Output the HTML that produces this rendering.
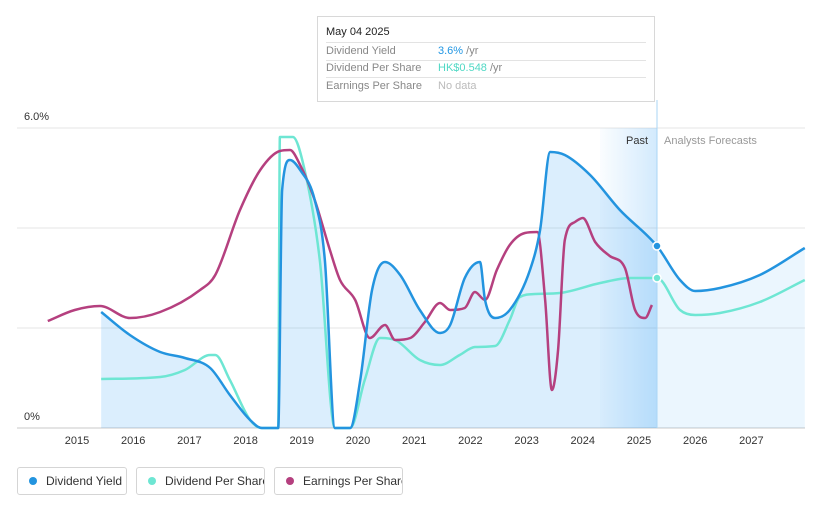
<!DOCTYPE html>
<html><head><meta charset="utf-8"><style>
body{margin:0;background:#fff;font-family:"Liberation Sans",sans-serif;}
#wrap{position:relative;width:821px;height:508px;overflow:hidden;}
.tt{position:absolute;left:317px;top:16px;width:338px;height:86px;background:#fff;border:1px solid #d8d8d8;box-sizing:border-box;font-size:11px;}
.tt .r{position:absolute;left:8px;right:8px;height:17px;border-bottom:1px solid #e3e3e3;color:#888;}
.tt .r span{position:absolute;left:112px}
.leg{position:absolute;top:467px;height:28px;border:1px solid #d5d5d5;border-radius:3px;box-sizing:border-box;font-size:12px;color:#333;line-height:26px;padding-left:28px;white-space:nowrap;overflow:hidden}
.leg i{position:absolute;left:11px;top:9px;width:8px;height:8px;border-radius:50%}
</style></head><body>
<div id="wrap">
<svg id="chart" width="821" height="508" style="position:absolute;left:0;top:0">
<defs>
<linearGradient id="pastg" x1="0" x2="1" y1="0" y2="0"><stop offset="0" stop-color="#2196f3" stop-opacity="0.02"/><stop offset="1" stop-color="#2196f3" stop-opacity="0.2"/></linearGradient>
</defs>
<g id="grid"></g>
<rect x="600" y="128" width="57" height="300" fill="url(#pastg)"/>
<g id="areas"></g>
<line x1="657" y1="100" x2="657" y2="428" stroke="#a9d6f5" stroke-width="1"/>
<g id="lines"></g>
<text x="626" y="144" font-size="11" fill="#333">Past</text>
<text x="664" y="144" font-size="11" fill="#999">Analysts Forecasts</text>
<text x="24" y="120" font-size="11" fill="#333">6.0%</text>
<text x="24" y="420" font-size="11" fill="#333">0%</text>
<g id="xticks"></g>
</svg>
<div class="tt">
<div style="position:absolute;left:8px;top:9px;color:#222;font-size:11px">May 04 2025</div>
<div class="r" style="top:25px;border-top:1px solid #e3e3e3;line-height:17px">Dividend Yield<span style="color:#2196e3">3.6% <b style="font-weight:normal;color:#888">/yr</b></span></div>
<div class="r" style="top:43px;line-height:17px">Dividend Per Share<span style="color:#4fd8c4">HK$0.548 <b style="font-weight:normal;color:#888">/yr</b></span></div>
<div class="r" style="top:61px;line-height:17px;border-bottom:none">Earnings Per Share<span style="color:#bbb">No data</span></div>
</div>
<div class="leg" style="left:17px;width:110px"><i style="background:#2394df"></i>Dividend Yield</div>
<div class="leg" style="left:136px;width:129px"><i style="background:#6ee6d3"></i>Dividend Per Share</div>
<div class="leg" style="left:274px;width:129px"><i style="background:#b5407f"></i>Earnings Per Share</div>
</div>
<script>
const yieldYears=[2015.43,2015.94,2016.48,2016.92,2017.37,2017.72,2018.08,2018.29,2018.58,2018.65,2018.79,2018.97,2019.23,2019.41,2019.59,2019.86,2020.04,2020.25,2020.48,2020.75,2021.10,2021.46,2021.64,2021.90,2022.17,2022.26,2022.44,2022.70,2023.06,2023.24,2023.42,2023.68,2024.13,2024.66,2025.32,2025.73,2026.00,2026.44,2027.15,2027.95];
const yieldValues=[2.32,1.86,1.52,1.40,1.20,0.66,0.16,0,0,4.76,5.36,5.16,4.56,3.36,0,0,0.96,2.76,3.32,3.06,2.36,1.90,2.06,3.0,3.32,2.56,2.2,2.36,3.16,3.96,5.52,5.46,5.06,4.36,3.64,2.96,2.74,2.8,3.06,3.6];
const dpsYears=[2015.43,2016.48,2016.92,2017.37,2017.46,2017.72,2018.08,2018.29,2018.58,2018.61,2018.84,2019.05,2019.32,2019.59,2019.86,2020.12,2020.39,2020.66,2021.10,2021.46,2021.81,2022.08,2022.44,2022.70,2022.88,2023.15,2023.59,2024.31,2024.84,2025.32,2025.73,2026.00,2026.44,2027.15,2027.95];
const dpsValues=[0.98,1.02,1.16,1.46,1.46,0.96,0.16,0,0,5.82,5.82,5.16,3.36,0,0,0.96,1.8,1.76,1.36,1.26,1.46,1.62,1.64,2.16,2.62,2.68,2.7,2.9,3.0,3.0,2.36,2.26,2.3,2.52,2.96];
const epsYears=[2014.48,2014.96,2015.41,2015.94,2016.48,2017.19,2017.46,2017.90,2018.26,2018.61,2018.79,2018.97,2019.23,2019.50,2019.68,2019.95,2020.21,2020.48,2020.66,2020.93,2021.19,2021.46,2021.64,2021.90,2022.08,2022.26,2022.47,2022.70,2022.97,2023.19,2023.33,2023.45,2023.56,2023.68,2023.86,2024.00,2024.22,2024.48,2024.75,2024.93,2025.11,2025.23];
const epsValues=[2.14,2.36,2.44,2.2,2.32,2.76,3.06,4.36,5.16,5.54,5.56,5.26,4.56,3.56,2.96,2.56,1.8,2.06,1.76,1.8,2.12,2.5,2.36,2.4,2.72,2.56,3.16,3.66,3.9,3.92,2.56,0.76,1.56,3.76,4.12,4.2,3.72,3.44,3.2,2.36,2.2,2.46];
const xTickLabels=["2015","2016","2017","2018","2019","2020","2021","2022","2023","2024","2025","2026","2027"];
const nowYear=2025.32;
const X=y=>77+(y-2015)*56.2;
const Y=v=>428-v*50;
const NS="http://www.w3.org/2000/svg";
function mk(tag,attrs,parent){const e=document.createElementNS(NS,tag);for(const k in attrs)e.setAttribute(k,attrs[k]);parent.appendChild(e);return e;}
function monoPath(xs,ys){const n=xs.length;const d=[],m=[];for(let i=0;i<n-1;i++){d.push((ys[i+1]-ys[i])/(xs[i+1]-xs[i]));}
m[0]=d[0];m[n-1]=d[n-2];for(let i=1;i<n-1;i++){m[i]=(d[i-1]*d[i]<=0)?0:(d[i-1]+d[i])/2;}
for(let i=0;i<n-1;i++){if(d[i]===0){m[i]=0;m[i+1]=0;continue;}const a=m[i]/d[i],b=m[i+1]/d[i],s=a*a+b*b;if(s>9){const t=3/Math.sqrt(s);m[i]=t*a*d[i];m[i+1]=t*b*d[i];}}
let p="M"+xs[0]+","+ys[0];for(let i=0;i<n-1;i++){const h=(xs[i+1]-xs[i])/3;p+=" C"+(xs[i]+h)+","+(ys[i]+m[i]*h)+" "+(xs[i+1]-h)+","+(ys[i+1]-m[i+1]*h)+" "+xs[i+1]+","+ys[i+1];}return p;}
const grid=document.getElementById('grid'),areas=document.getElementById('areas'),lines=document.getElementById('lines'),xt=document.getElementById('xticks');
[0,2,4,6].forEach(v=>{const l=mk('line',{x1:17,x2:805,y1:Y(v),y2:Y(v),stroke:v===0?'#c8c8c8':'#e6e6e6'},grid);

});
xTickLabels.forEach(t=>{const e=mk('text',{x:X(+t),y:444,'font-size':11,fill:'#333','text-anchor':'middle'},xt);e.textContent=t;

});
const yx=yieldYears.map(X),yy=yieldValues.map(Y);
const yp=monoPath(yx,yy);
const clipP=mk('clipPath',{id:'cpast'},document.querySelector('defs'));mk('rect',{x:0,y:0,width:X(nowYear),height:508},clipP);
const clipF=mk('clipPath',{id:'cfut'},document.querySelector('defs'));mk('rect',{x:X(nowYear),y:0,width:400,height:508},clipF);
const aPath=yp+" L"+yx[yx.length-1]+","+Y(0)+" L"+yx[0]+","+Y(0)+" Z";
const a1=mk('path',{d:aPath,fill:'#2196f3','fill-opacity':0.16,'clip-path':'url(#cpast)'},areas);


const a2=mk('path',{d:aPath,fill:'#2196f3','fill-opacity':0.09,'clip-path':'url(#cfut)'},areas);


function drawLine(xs,vs,color,name){const p=mk('path',{d:monoPath(xs.map(X),vs.map(Y)),fill:'none',stroke:color,'stroke-width':2.5,'stroke-linejoin':'round'},lines);

}
drawLine(dpsYears,dpsValues,'#6ee6d3','dividend-per-share-line');
drawLine(epsYears,epsValues,'#b5407f','earnings-per-share-line');
drawLine(yieldYears,yieldValues,'#2394df','dividend-yield-line');
const iy=yieldYears.indexOf(nowYear),id=dpsYears.indexOf(nowYear);
const c1=mk('circle',{cx:X(nowYear),cy:Y(yieldValues[iy]),r:4,fill:'#2394df',stroke:'#fff','stroke-width':1.5},lines);


const c2=mk('circle',{cx:X(nowYear),cy:Y(dpsValues[id]),r:4,fill:'#6ee6d3',stroke:'#fff','stroke-width':1.5},lines);


</script>
</body></html>
